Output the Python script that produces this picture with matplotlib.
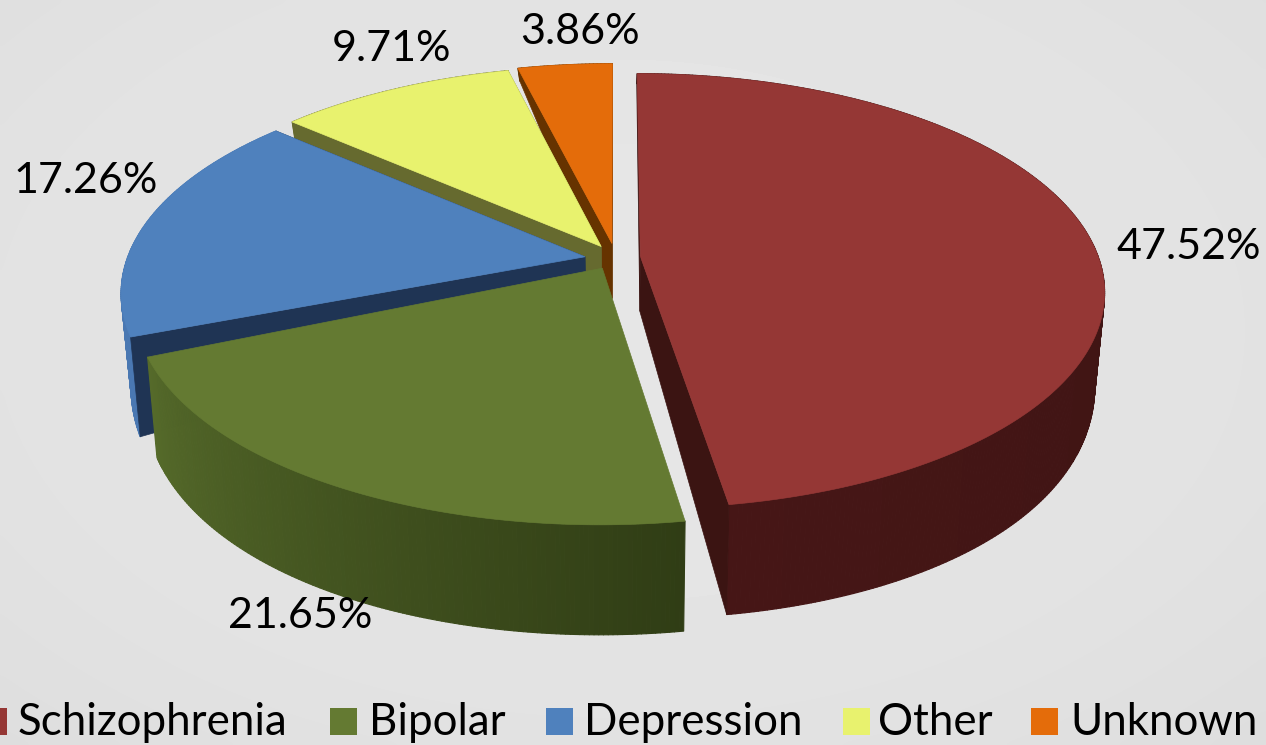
import numpy as np
import matplotlib
matplotlib.use("Agg")
import matplotlib.pyplot as plt
from matplotlib.collections import PolyCollection
from matplotlib.colors import to_rgb
from matplotlib.patches import Polygon, Rectangle

categories = ["Schizophrenia", "Bipolar", "Depression", "Other", "Unknown"]
values = [47.52, 21.65, 17.26, 9.71, 3.86]
value_labels = ["47.52%", "21.65%", "17.26%", "9.71%", "3.86%"]

explode = [0.05, 0.055, 0.06, 0.05, 0.055]
# small hand nudges in pixels, and the green slice looks a bit short in the slide
nudge = [(2.5, 0), (0, 1), (-3, 2), (-2, -1.5), (0, -2)]
end_trim_deg = [0, 1.8, 0, 0, 0]
show_faces = [True, False, True, True, True]
top_colors = ["#953735", "#647a32", "#4f81bd", "#e8f26e", "#e46c0a"]
face_colors = ["#3b1412", "#303d15", "#1f3454", "#666a2f", "#663300"]
rim_start = ["#371311", "#303d15", "#4a78b2", "#666a2f", "#663300"]
rim_end = ["#461616", "#556a2a", "#4a78b2", "#666a2f", "#663300"]

label_pos = [(1189, 247), (300, 616), (86, 181), (392, 49), (580, 32)]
legend_square_x = [-20, 330, 546, 843, 1031]
legend_text_x = [18, 369, 584, 878, 1070]

# pie geometry in pixels, fitted by eye
cx, cy = 615, 257
a, b, k = 458, 212, 0.16
lower_x = 0.98
apex_drop = 55


def project(x, y):
    s = 1 / (1 - k * y)
    return cx + a * x * s, cy + b * y * s


def drop(theta):
    # the side wall looks deeper towards the viewer
    return 110 - 25 * (-np.cos(theta) - 1) ** 2


def lower(px, py, d):
    return cx + (px - cx) * lower_x, py + d


fig = plt.figure(figsize=(12.66, 7.45), dpi=100)
ax = fig.add_axes([0, 0, 1, 1])
ax.set_xlim(0, 1266)
ax.set_ylim(745, 0)
ax.axis("off")

# slide background, only very slightly lighter in the middle
yy, xx = np.mgrid[0:745:150j, 0:1266:250j]
dist = np.hypot((xx - 620) / 900, (yy - 330) / 560)
ax.imshow(230 - 8 * dist ** 2, cmap="gray", vmin=0, vmax=255,
          extent=[0, 1266, 745, 0], aspect="auto", zorder=0, interpolation="bicubic")

fractions = np.array(values) / sum(values)
starts = np.concatenate([[0], np.cumsum(fractions)[:-1]]) * 2 * np.pi
ends = np.cumsum(fractions) * 2 * np.pi

# back to front
for i in [4, 3, 2, 1, 0]:
    mid = (starts[i] + ends[i]) / 2
    ox, oy = explode[i] * np.sin(mid), -explode[i] * np.cos(mid)
    end = ends[i] - np.radians(end_trim_deg[i])
    th = np.linspace(starts[i], end, max(int(np.degrees(end - starts[i])) * 2, 8))
    tx, ty = project(ox + np.sin(th), oy - np.cos(th))
    tx, ty = tx + nudge[i][0], ty + nudge[i][1]
    bx, by = lower(tx, ty, drop(th))
    ax0, ay0 = project(ox, oy)
    ax0, ay0 = ax0 + nudge[i][0], ay0 + nudge[i][1]
    bx0, by0 = lower(ax0, ay0, apex_drop)

    # outer wall, shaded along the arc
    c0, c1 = np.array(to_rgb(rim_start[i])), np.array(to_rgb(rim_end[i]))
    quads, cols = [], []
    for j in range(len(th) - 1):
        quads.append([(tx[j], ty[j]), (tx[j + 1], ty[j + 1]), (bx[j + 1], by[j + 1]), (bx[j], by[j])])
        cols.append(c0 + (c1 - c0) * j / (len(th) - 2))
    ax.add_collection(PolyCollection(quads, facecolors=cols, edgecolors=cols, linewidths=0.8, zorder=2 + (4 - i) * 3))

    # cut faces
    if show_faces[i]:
        for n in [0, -1]:
            ax.add_patch(Polygon([(ax0, ay0), (tx[n], ty[n]), (bx[n], by[n]), (bx0, by0)],
                                 fc=face_colors[i], ec=face_colors[i], lw=0.5, zorder=3 + (4 - i) * 3))

    # top
    ax.add_patch(Polygon(np.column_stack([np.r_[ax0, tx], np.r_[ay0, ty]]),
                         fc=top_colors[i], ec=top_colors[i], lw=0.5, zorder=4 + (4 - i) * 3))

    ax.text(label_pos[i][0], label_pos[i][1], value_labels[i], ha="center", va="center",
            fontsize=31, family="Lato", color="black", zorder=30)

    ax.add_patch(Rectangle((legend_square_x[i], 708), 27, 27, fc=top_colors[i], ec="none", zorder=30))
    ax.text(legend_text_x[i], 735, categories[i], ha="left", va="baseline",
            fontsize=31.6, family="Lato", color="black", zorder=30)

fig.savefig("out.png", dpi=100)
